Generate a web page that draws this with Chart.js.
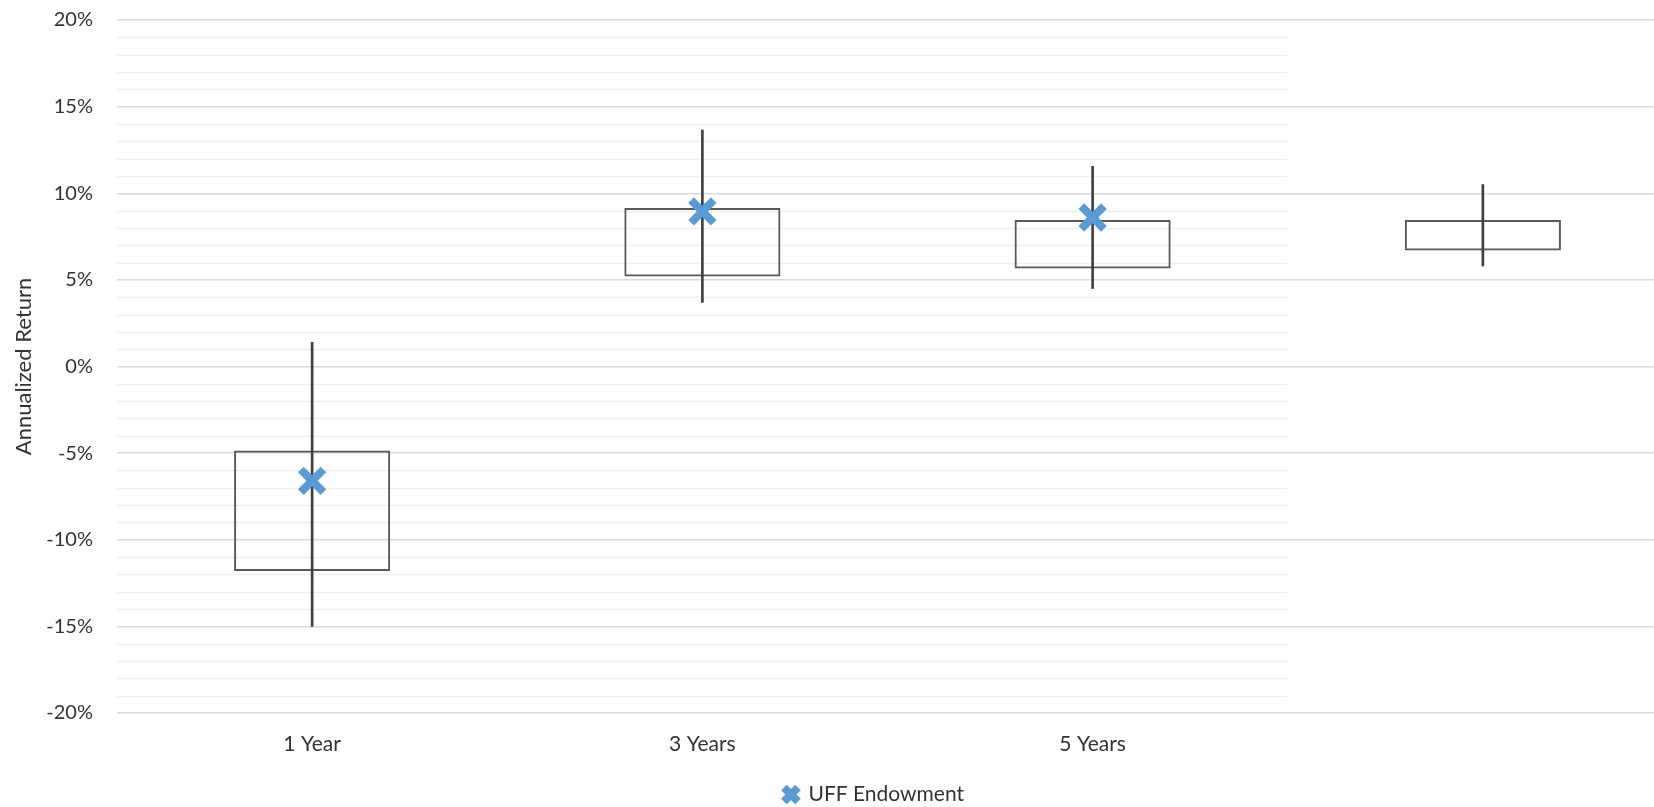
<!DOCTYPE html>
<html>
<head>
<meta charset="utf-8">
<script src="https://cdn.jsdelivr.net/npm/chart.js@4.4.0/dist/chart.umd.min.js"></script>
<style>
  html, body { margin: 0; padding: 0; background: #fff; overflow: hidden; }
  #wrap { width: 1748px; height: 815px; position: relative; }
</style>
</head>
<body>
<div id="wrap"><canvas id="chart"></canvas></div>
<script>
const labels = ['1 Year', '3 Years', '5 Years', ''];
const boxLow = [-11.8, 5.2, 5.65, 6.7];
const boxHigh = [-4.85, 9.15, 8.45, 8.45];
const whiskerLow = [-15.0, 3.7, 4.5, 5.8];
const whiskerHigh = [1.4, 13.65, 11.55, 10.5];
const endowment = [-6.6, 8.95, 8.6, null];

const fontFamily = 'Lato, "Liberation Sans", sans-serif';
const textColor = '#333333';

// light minor gridlines, only across the first three categories
const minorGrid = {
  id: 'minorGrid',
  beforeDatasetsDraw(chart) {
    const { ctx, scales: { x, y }, chartArea } = chart;
    const right = x.getPixelForValue(2) + (x.getPixelForValue(1) - x.getPixelForValue(0)) / 2;
    ctx.save();
    ctx.strokeStyle = '#efefef';
    ctx.lineWidth = 1.5;
    for (let v = -19; v < 20; v++) {
      if (v % 5 === 0) continue;
      const py = Math.round(y.getPixelForValue(v)) + 0.5;
      ctx.beginPath();
      ctx.moveTo(chartArea.left, py);
      ctx.lineTo(right, py);
      ctx.stroke();
    }
    ctx.restore();
  }
};

const ctx = document.getElementById('chart').getContext('2d');
new Chart(ctx, {
  type: 'bar',
  data: {
    labels: labels,
    datasets: [
      {
        type: 'line',
        label: 'UFF Endowment',
        data: endowment,
        showLine: false,
        pointStyle: 'crossRot',
        pointRadius: 16,
        pointBorderWidth: 8,
        pointBorderColor: '#5b9bd5',
        pointBackgroundColor: '#5b9bd5',
        order: 0
      },
      {
        label: 'range',
        data: whiskerLow.map((v, i) => [v, whiskerHigh[i]]),
        backgroundColor: '#404040',
        barThickness: 2,
        grouped: false,
        order: 1
      },
      {
        label: 'box',
        data: boxLow.map((v, i) => [v, boxHigh[i]]),
        backgroundColor: 'rgba(0,0,0,0)',
        borderColor: '#595959',
        borderWidth: 2,
        borderSkipped: false,
        barPercentage: 0.4,
        categoryPercentage: 1,
        grouped: false,
        order: 2
      }
    ]
  },
  options: {
    responsive: true,
    maintainAspectRatio: false,
    animation: false,
    layout: { autoPadding: false, padding: 0 },
    plugins: {
      tooltip: { enabled: false },
      legend: {
        position: 'bottom',
        labels: {
          filter: item => item.text === 'UFF Endowment',
          usePointStyle: true,
          boxWidth: 14,
          boxHeight: 14,
          padding: 3,
          color: textColor,
          font: { family: fontFamily, size: 21 }
        }
      }
    },
    scales: {
      x: {
        afterFit: axis => { axis.height = 68; },
        grid: { display: false, drawTicks: false },
        border: { display: false },
        ticks: {
          color: textColor,
          padding: 19,
          font: { family: fontFamily, size: 21 }
        }
      },
      y: {
        min: -20,
        max: 20,
        afterFit: axis => {
          axis.width = 117;
          axis.paddingTop = 20;
          axis.paddingBottom = 12;
        },
        grid: {
          drawTicks: false,
          lineWidth: 1.5,
          color: c => (c.tick && c.tick.value % 5 === 0) ? '#d9d9d9' : 'rgba(0,0,0,0)'
        },
        border: { display: false },
        ticks: {
          stepSize: 1,
          autoSkip: false,
          padding: 24,
          color: textColor,
          font: { family: fontFamily, size: 20 },
          callback: v => (v % 5 === 0 ? v + '%' : '')
        },
        title: {
          display: true,
          text: 'Annualized Return',
          color: textColor,
          padding: { top: 11, bottom: 0 },
          font: { family: fontFamily, size: 22 }
        }
      },
      // empty right-hand space so the plot ends where the original does
      yRight: {
        position: 'right',
        afterFit: axis => { axis.width = 70; },
        grid: { display: false, drawTicks: false },
        border: { display: false },
        ticks: { display: false }
      }
    }
  },
  plugins: [minorGrid]
});
</script>
</body>
</html>
